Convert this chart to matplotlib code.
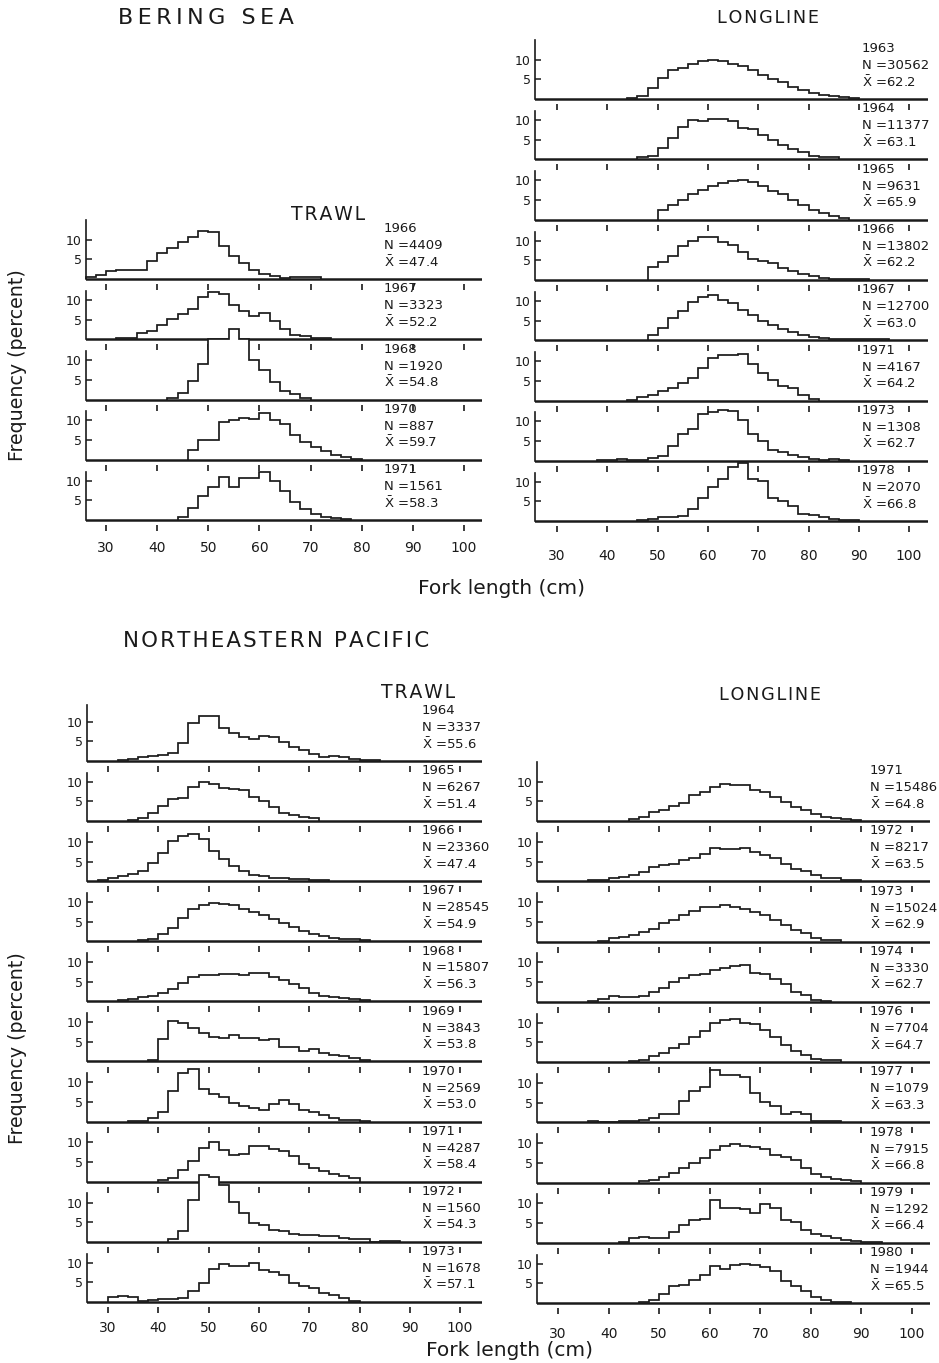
import matplotlib.pyplot as plt
import numpy as np

# Bering Sea, trawl
bs_trawl_years = [1966, 1967, 1968, 1970, 1971]
bs_trawl_n = [4409, 3323, 1920, 887, 1561]
bs_trawl_mean = [47.4, 52.2, 54.8, 59.7, 58.3]
bs_trawl_start = [26, 32, 42, 46, 44]
bs_trawl_freq = [
    [0.5, 1.0, 2.1, 2.2, 2.3, 2.4, 4.5, 6.6, 7.8, 9.4, 10.8, 12.2, 12.0, 8.3, 5.8, 4.1, 2.4, 1.3, 0.7, 0.3, 0.4, 0.5, 0.5],
    [0.2, 0.4, 1.5, 2.1, 3.6, 5.1, 6.3, 7.6, 10.8, 12.0, 11.4, 8.6, 7.2, 5.9, 6.8, 4.7, 2.7, 1.0, 0.7, 0.4, 0.2],
    [0.3, 1.7, 4.8, 9.1, 15.4, 15.4, 17.9, 15.4, 10.0, 7.4, 4.4, 2.2, 1.3, 0.4],
    [2.6, 5.0, 5.0, 9.6, 10.2, 10.7, 10.3, 11.9, 10.2, 9.0, 6.3, 4.5, 3.3, 2.2, 1.3, 0.6, 0.3],
    [0.8, 3.0, 6.0, 8.3, 10.9, 8.4, 10.7, 10.7, 12.2, 9.8, 7.3, 4.6, 2.9, 1.6, 0.8, 0.5, 0.3],
]

# Bering Sea, longline
bs_line_years = [1963, 1964, 1965, 1966, 1967, 1971, 1973, 1978]
bs_line_n = [30562, 11377, 9631, 13802, 12700, 4167, 1308, 2070]
bs_line_mean = [62.2, 63.1, 65.9, 62.2, 63.0, 64.2, 62.7, 66.8]
bs_line_start = [44, 46, 50, 48, 48, 44, 38, 46]
bs_line_freq = [
    [0.25, 0.8, 2.9, 5.4, 7.5, 8.0, 9.0, 9.7, 9.8, 9.6, 9.0, 8.3, 7.3, 6.2, 5.2, 4.2, 3.1, 2.3, 1.6, 1.0, 0.7, 0.4, 0.35],
    [0.5, 0.9, 2.9, 5.3, 8.1, 10.0, 9.8, 10.3, 10.3, 9.8, 7.9, 7.6, 6.2, 4.9, 3.7, 2.6, 1.8, 0.8, 0.5, 0.5],
    [2.5, 3.6, 5.1, 6.4, 7.6, 8.5, 9.3, 9.7, 10.0, 9.6, 8.5, 7.4, 6.4, 5.1, 3.8, 2.5, 1.7, 0.8, 0.4],
    [3.3, 4.5, 6.2, 8.5, 9.9, 10.8, 10.8, 9.6, 8.9, 7.1, 5.4, 4.9, 4.2, 3.1, 2.3, 1.4, 0.9, 0.6, 0.3, 0.3, 0.3, 0.3],
    [1.3, 3.1, 5.6, 7.5, 9.8, 11.1, 11.5, 10.3, 9.4, 7.7, 6.3, 5.0, 3.9, 2.9, 2.1, 1.4, 0.8, 0.6, 0.4, 0.3, 0.3, 0.3, 0.3, 0.3],
    [0.2, 0.8, 1.4, 2.3, 3.1, 4.5, 5.6, 8.2, 10.7, 11.5, 11.7, 11.9, 9.2, 6.9, 5.2, 3.7, 3.1, 1.4, 0.4],
    [0.25, 0.3, 0.4, 0.3, 0.3, 0.8, 1.25, 3.75, 6.8, 8.1, 11.8, 12.3, 12.9, 12.7, 10.3, 6.9, 5.0, 2.7, 2.25, 1.5, 1.0, 0.4, 0.3, 0.4, 0.3],
    [0.4, 0.6, 1.0, 1.1, 1.4, 3.2, 5.8, 8.6, 10.8, 13.7, 14.7, 10.8, 10.2, 6.0, 5.2, 3.8, 1.9, 1.6, 1.0, 0.6, 0.3, 0.3],
]

# Northeastern Pacific, trawl
np_trawl_years = [1964, 1965, 1966, 1967, 1968, 1969, 1970, 1971, 1972, 1973]
np_trawl_n = [3337, 6267, 23360, 28545, 15807, 3843, 2569, 4287, 1560, 1678]
np_trawl_mean = [55.6, 51.4, 47.4, 54.9, 56.3, 53.8, 53.0, 58.4, 54.3, 57.1]
np_trawl_start = [32, 34, 28, 36, 32, 38, 34, 40, 42, 30]
np_trawl_freq = [
    [0.2, 0.6, 1.0, 1.3, 1.6, 2.1, 4.7, 9.7, 11.5, 11.5, 8.3, 7.2, 6.0, 5.5, 6.4, 6.0, 4.9, 3.6, 2.7, 1.9, 1.0, 1.3, 0.9, 0.6, 0.3, 0.3],
    [0.25, 0.85, 1.95, 3.8, 5.5, 6.0, 8.7, 10.0, 9.4, 8.3, 8.1, 7.9, 6.2, 5.1, 3.5, 1.95, 1.5, 1.1, 0.7],
    [0.4, 0.7, 1.3, 1.9, 2.7, 4.7, 7.2, 10.2, 11.6, 11.9, 10.8, 7.6, 5.7, 3.8, 2.5, 1.7, 1.3, 0.85, 0.7, 0.6, 0.5, 0.4, 0.3],
    [0.25, 0.7, 1.95, 3.5, 5.9, 8.1, 9.2, 9.8, 9.6, 9.3, 8.1, 7.5, 6.6, 5.8, 4.7, 3.6, 2.6, 1.95, 1.35, 0.9, 0.7, 0.5, 0.3],
    [0.25, 0.7, 1.1, 1.5, 2.1, 3.2, 4.7, 6.3, 6.75, 6.75, 7.0, 6.9, 6.75, 7.2, 7.2, 6.1, 5.5, 4.4, 3.3, 2.2, 1.5, 1.1, 0.9, 0.7, 0.4],
    [0.4, 5.8, 10.4, 9.8, 8.4, 7.3, 6.3, 5.9, 6.7, 6.1, 5.9, 5.5, 5.7, 3.8, 3.6, 2.75, 3.2, 2.2, 1.75, 1.3, 0.9, 0.4],
    [0.2, 0.2, 1.0, 2.4, 7.7, 12.4, 13.4, 8.2, 7.1, 6.3, 4.8, 3.9, 3.4, 2.9, 4.4, 5.6, 4.5, 2.9, 2.4, 1.6, 0.8, 0.4, 0.3, 0.25],
    [0.35, 1.0, 3.1, 5.2, 8.6, 10.0, 8.0, 6.9, 7.1, 9.2, 9.0, 8.3, 7.7, 6.5, 4.4, 3.5, 2.7, 1.85, 1.4, 0.85],
    [0.6, 2.7, 10.75, 17.0, 16.6, 14.5, 10.2, 7.25, 4.75, 4.3, 3.1, 2.7, 2.1, 1.8, 1.7, 1.4, 1.6, 1.0, 0.75, 0.6, 0.0, 0.3, 0.3],
    [1.2, 1.6, 1.2, 0.25, 0.5, 0.7, 0.7, 1.1, 2.8, 4.75, 8.3, 9.6, 9.2, 9.2, 10.0, 8.0, 7.7, 6.9, 4.9, 4.1, 3.5, 2.2, 1.8, 1.1, 0.35],
]

# Northeastern Pacific, longline
np_line_years = [1971, 1972, 1973, 1974, 1976, 1977, 1978, 1979, 1980]
np_line_n = [15486, 8217, 15024, 3330, 7704, 1079, 7915, 1292, 1944]
np_line_mean = [64.8, 63.5, 62.9, 62.7, 64.7, 63.3, 66.8, 66.4, 65.5]
np_line_start = [44, 36, 38, 36, 44, 36, 46, 42, 46]
np_line_freq = [
    [0.4, 1.1, 2.2, 2.75, 3.75, 4.7, 6.5, 7.3, 8.75, 9.4, 9.25, 9.25, 8.0, 7.3, 6.1, 4.8, 3.6, 2.75, 1.75, 1.1, 0.7, 0.4, 0.25],
    [0.25, 0.4, 0.7, 1.1, 1.5, 2.4, 3.5, 4.1, 4.5, 5.3, 6.0, 7.0, 8.5, 8.1, 8.2, 8.5, 7.5, 6.6, 5.8, 4.5, 3.2, 2.5, 1.5, 0.9, 0.7, 0.4, 0.25],
    [0.25, 0.8, 1.25, 1.7, 2.5, 3.2, 4.75, 5.4, 6.7, 7.75, 8.75, 8.9, 9.4, 8.75, 8.3, 7.5, 6.8, 5.4, 4.2, 2.9, 2.1, 0.8, 0.4, 0.4],
    [0.25, 0.8, 1.5, 1.25, 1.25, 1.5, 2.5, 3.5, 5.0, 6.1, 6.7, 7.1, 8.1, 8.6, 9.2, 9.3, 7.3, 7.1, 5.8, 4.6, 2.5, 1.7, 0.4, 0.25],
    [0.25, 0.6, 1.4, 2.25, 3.5, 4.6, 6.25, 7.9, 9.8, 10.7, 11.0, 10.0, 9.6, 8.1, 6.25, 4.4, 2.9, 1.7, 0.8, 0.6, 0.4],
    [0.25, 0.0, 0.0, 0.4, 0.25, 0.6, 1.2, 2.2, 2.0, 5.5, 7.95, 9.0, 13.3, 12.0, 12.1, 11.6, 7.4, 5.2, 4.1, 2.05, 2.5, 2.05, 0.4, 0.25, 0.25],
    [0.35, 0.75, 1.4, 2.4, 3.7, 5.0, 6.2, 8.25, 9.3, 9.9, 9.3, 9.1, 8.5, 7.0, 6.4, 5.6, 3.75, 2.1, 1.4, 1.0, 0.6, 0.4],
    [0.25, 1.1, 1.5, 1.3, 1.1, 2.75, 4.6, 5.8, 6.0, 10.8, 8.8, 8.75, 8.6, 7.5, 9.8, 8.8, 5.7, 5.25, 3.2, 2.3, 1.7, 1.3, 0.8, 0.5, 0.3, 0.3],
    [0.25, 0.85, 2.4, 4.3, 4.7, 5.9, 7.0, 9.3, 8.6, 9.6, 10.0, 9.6, 9.15, 8.1, 5.5, 4.3, 3.0, 1.5, 0.85, 0.25, 0.25],
]

W, H = 939, 1363
PPY = 3.93          # pixels per percent
YLO, YHI = -2.8, 15.2
INK = "#1a1a1a"

fig = plt.figure(figsize=(W / 100, H / 100), dpi=100)


def draw_group(years, ns, means, starts, freqs, spine_px, x30_px, ppx, right_px,
               base0, step, text_x, label_pad, first_top):
    xlo = 30 - (x30_px - spine_px) / ppx
    xhi = 30 + (right_px - x30_px) / ppx
    h_px = (YHI - YLO) * PPY
    last = len(years) - 1
    for i, (yr, n, m, s, f) in enumerate(zip(years, ns, means, starts, freqs)):
        base = base0 + i * step
        top = base - YHI * PPY
        ax = fig.add_axes([spine_px / W, 1 - (top + h_px) / H,
                           (right_px - spine_px) / W, h_px / H])
        ax.patch.set_visible(False)
        ax.set_xlim(xlo, xhi)
        ax.set_ylim(YLO, YHI)
        edges = s + 2 * np.arange(len(f) + 1)
        ax.stairs(f, edges, fill=True, color="white", zorder=2, clip_on=False)
        ax.stairs(f, edges, baseline=0, color=INK, lw=1.25, zorder=3, clip_on=False)
        ax.axhline(0, color=INK, lw=1.8, zorder=4)

        for side in ["top", "right", "bottom"]:
            ax.spines[side].set_visible(False)
        ax.spines["left"].set_bounds(0, first_top if i == 0 else 12.3)
        ax.spines["left"].set_linewidth(1.2)
        ax.spines["left"].set_color(INK)

        ax.set_yticks([5, 10])
        ax.tick_params(axis="y", direction="in", length=4, width=1.1, pad=3,
                       labelsize=9, colors=INK)
        ax.set_xticks(range(30, 101, 10))
        ax.tick_params(axis="x", direction="in", length=4.5, width=1.2,
                       pad=label_pad, labelsize=10, colors=INK,
                       labelbottom=(i == last))

        ax.text(text_x, 12.8, str(yr), fontsize=9.5, color=INK, va="center")
        ax.text(text_x, 8.5, f"N ={n}", fontsize=9.5, color=INK, va="center")
        ax.text(text_x, 4.4, r"$\bar{\mathrm{X}}$ =" + f"{m:.1f}",
                fontsize=9.5, color=INK, va="center")


draw_group(bs_trawl_years, bs_trawl_n, bs_trawl_mean, bs_trawl_start, bs_trawl_freq,
           86, 106, 5.114, 482, 279, 60.25, 84.3, 7, 15.0)
draw_group(bs_line_years, bs_line_n, bs_line_mean, bs_line_start, bs_line_freq,
           535, 557, 5.03, 928, 99, 60.3, 90.6, 12, 15.0)
draw_group(np_trawl_years, np_trawl_n, np_trawl_mean, np_trawl_start, np_trawl_freq,
           87, 108, 5.03, 482, 761, 60.1, 92.4, 6, 14.2)
draw_group(np_line_years, np_line_n, np_line_mean, np_line_start, np_line_freq,
           537, 558, 5.057, 930, 821, 60.25, 91.7, 9, 15.0)


def ftext(x, y, s, **kw):
    fig.text(x / W, 1 - y / H, s, color=INK, va="center", **kw)


def spaced(s, gap):
    return gap.join(s)


THIN, HAIR = "\u2009", "\u200a"
ftext(118, 18, spaced("BERING SEA", THIN), fontsize=16, ha="left")
ftext(768, 18, spaced("LONGLINE", HAIR), fontsize=12.7, ha="center")
ftext(328, 215, spaced("TRAWL", HAIR), fontsize=13.5, ha="center")
ftext(123, 641, spaced("NORTHEASTERN PACIFIC", HAIR), fontsize=15.4, ha="left")
ftext(418, 692, spaced("TRAWL", HAIR), fontsize=13.5, ha="center")
ftext(770, 695, spaced("LONGLINE", HAIR), fontsize=12.7, ha="center")
ftext(501, 588, "Fork length (cm)", fontsize=14.5, ha="center")
ftext(510, 1350, "Fork length (cm)", fontsize=14.5, ha="center")
ftext(18, 365, "Frequency (percent)", fontsize=13.7, ha="center", rotation=90)
ftext(18, 1048, "Frequency (percent)", fontsize=13.7, ha="center", rotation=90)

fig.savefig("out.png", dpi=100, facecolor="white")
